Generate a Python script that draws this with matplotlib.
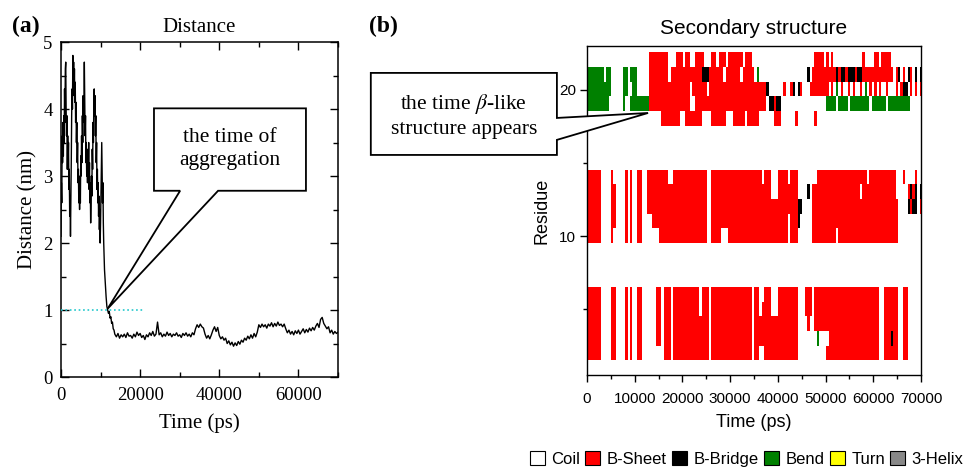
import numpy as np
import matplotlib
matplotlib.use("Agg")
import matplotlib.pyplot as plt
from matplotlib.colors import ListedColormap
from matplotlib.patches import Polygon, Patch
from matplotlib.ticker import MultipleLocator

plt.rcParams['mathtext.fontset'] = 'stix'
SERIF = 'Liberation Serif'
SANS = 'Liberation Sans'

# ---------------- (a) distance between peptides ----------------
# 0 .. 11000 ps, every 100 ps
dist_early = [
    2.1, 2.9, 2.6, 3.6, 3.2, 3.8, 3.3, 3.9, 3.5, 4.3,
    3.8, 4.6, 4.7, 4.0, 3.6, 3.9, 3.1, 3.6, 3.2, 3.5,
    2.8, 3.1, 2.4, 2.7, 2.1, 2.6, 3.2, 3.9, 4.3, 4.0,
    4.8, 4.4, 4.7, 4.2, 4.6, 4.1, 4.4, 3.8, 4.1, 3.5,
    3.8, 3.2, 3.5, 2.9, 3.1, 2.6, 2.9, 2.5, 3.0, 2.6,
    3.3, 3.0, 3.6, 3.2, 3.9, 3.5, 4.2, 3.8, 4.1, 4.7,
    4.2, 3.6, 3.9, 3.2, 3.5, 3.0, 3.3, 2.9, 3.4, 3.0,
    3.5, 2.8, 3.2, 2.6, 2.9, 2.3, 2.6, 3.0, 2.7, 3.4,
    3.1, 3.8, 3.5, 4.1, 4.3, 3.9, 4.2, 3.6, 3.9, 3.2,
    3.5, 2.8, 3.1, 2.6, 2.9, 2.4, 2.7, 2.2, 2.5, 2.0,
    2.3, 2.7, 3.1, 3.5, 3.0, 2.6, 2.9, 2.3, 2.0, 1.8,
    1.6,
]
# 11200 .. 13800 ps, every 200 ps
dist_drop = [1.4, 1.2, 1.05, 1.0, 0.95, 0.98, 0.88, 0.9, 0.8, 0.82,
             0.72, 0.7, 0.64, 0.62]
# 14000 .. 70000 ps, every 400 ps
dist_late = [
    0.60, 0.65, 0.58, 0.63, 0.60, 0.64, 0.59, 0.66, 0.61, 0.62,
    0.58, 0.64, 0.60, 0.67, 0.62, 0.65, 0.59, 0.62, 0.56, 0.63,
    0.60, 0.66, 0.62, 0.68, 0.61, 0.64, 0.82, 0.63, 0.66, 0.60,
    0.64, 0.61, 0.67, 0.62, 0.65, 0.60, 0.64, 0.62, 0.66, 0.61,
    0.63, 0.59, 0.65, 0.62, 0.66, 0.61, 0.64, 0.60, 0.66, 0.63,
    0.72, 0.78, 0.74, 0.79, 0.75, 0.73, 0.64, 0.58, 0.62, 0.57,
    0.63, 0.70, 0.75, 0.68, 0.74, 0.62, 0.57, 0.60, 0.55, 0.58,
    0.50, 0.54, 0.48, 0.52, 0.46, 0.51, 0.47, 0.53, 0.49, 0.55,
    0.52, 0.58, 0.55, 0.61, 0.57, 0.63, 0.58, 0.65, 0.60, 0.67,
    0.78, 0.74, 0.79, 0.75, 0.78, 0.73, 0.79, 0.76, 0.81, 0.75,
    0.80, 0.76, 0.82, 0.77, 0.79, 0.75, 0.79, 0.72, 0.66, 0.70,
    0.64, 0.68, 0.63, 0.69, 0.65, 0.70, 0.64, 0.68, 0.72, 0.66,
    0.71, 0.67, 0.73, 0.69, 0.74, 0.70, 0.76, 0.80, 0.74, 0.86,
    0.89, 0.80, 0.76, 0.72, 0.75, 0.66, 0.70, 0.64, 0.68, 0.65,
    0.67,
]
time_a = np.concatenate([np.arange(0, 11001, 100),
                         np.arange(11200, 13801, 200),
                         np.arange(14000, 70001, 400)])
dist_a = np.array(dist_early + dist_drop + dist_late)
cutoff = 1.0
cutoff_end = 21000

# ---------------- (b) DSSP secondary structure ----------------
# one char per 500 ps: . coil, E sheet, B bridge, S bend, T turn, G 3-helix
ss_labels = ['Coil', 'B-Sheet', 'B-Bridge', 'Bend', 'Turn', '3-Helix']
ss_colors = ['white', '#ff0000', 'black', '#008000', '#ffff00', '#888888']
ss_codes = '.EBSTG'
n_res = 23
bin_ps = 500

res_chain3 = [18, 19, 20, 21, 22]
ss_chain3 = [
    ".......... .......... .......... .EEEEEEEE. .EEEEEEE.. ..EEEEEE.. .EEEEE.EEE EE......EE E......E.. .....E.... .......... .......... .......... ..........",
    "SSSSSSSSS. .....S..SS SSSSSSEEEE EEEEEEEEEE EEE..EEEEE EEEEEEEEEE EEEEEEEEEE EEEEE.BBEB B......... .......... SSSS.SSSS. SSSSSSSS.S SSSSS.SSSS SSSSS.....",
    "SSSSSSSSSS .....SS..S S.....EEEE EEEEEEEEEE EEE.EEEEEE .EEEEEEEEE EEEEEEEEEE EEEEEB.... ..E..EB.BE ...EEEEEEE E.E.S.E..E .E..E.S.E. E.E..E...E .EBB.E.E.E",
    "SSSSSSS.SS .....SS.SS S.....EEEE EEEE.EEEEE EEEEEEEEBB BEEEEEE.EE EEEE.EEEEE .S........ .......... ..B.EEEEEE EEEEBEBBEB BBEBBEEEEE EEEEEEEE.E B.E.BE.B.B",
    ".......... .......... ......EEEE EEEE...EEE .EE..EEEE. ..EE.EEE.E EEEEE.EEE. .......... .......... .....EEEE. E.E....... .....E.... EE.EEEE... ..........",
]
res_chain2 = [10, 11, 12, 13, 14]
ss_chain2 = [
    "EEEEEE.... E.....E.E. .EE....... EEEEEEEEEE EEEEEEEEEE ..EEEE...E EEEEEEEEEE EEEEEEEEEE EEEE.EEE.. ....EEEEEE EEEE.EEEEE EEEEEEEEEE EEEEEEEEEE ..........",
    "EEEEEE.... EE....E.E. .EE....EEE EEEEEEEEEE EEEEEEEEEE ..EEEEEEEE EEEEEEEEEE EEEEEEEEEE EEEE.EEEB. ....EEEEEE EEEEEEEEEE EEEEEEEEEE EEEEEEEEEE ..........",
    "EEEEEE.... EE....E.E. .EE..EEEEE EEEEEEEEEE EEEEEEEEEE ..EEEEEEEE EEEEEEEEEE EEEEEEEEEE EEEEEEEEBB ....EEEEEE EEEEEEEEEE EEEEEEEEEE EEEEEEEEEE ....BEBB.E",
    "EEEEEE.... EE....E.E. .EE..EEEEE EEEEEEEEEE EEEEEEEEEE ..EEEEEEEE EEEEEEEEEE EEEEEEE... EEEEEEEE.. ..B.EEEEEE EEEEEEEEEE EEEE.EEEEE EEEEEEEEE. ....EBEB.B",
    "EEEEEE.... E.....E.E. .EE..EEEEE EEEE..EEEE EEEEEEEEEE ..EEEEEEEE EEEEEEEEEE EEE.EEE... EEEE.EEE.. ......EEEE EEEEEEEEEE EEEEEEE.EE EEEEEEEEE. ..E....E..",
]
res_chain1 = [2, 3, 4, 5, 6]
ss_chain1 = [
    "EEEEEE.... EE....E.E. .EE....... ..EEE.EEEE EEEEEEEEEE E.EEEEEEEE EEEEEEEEE. EE..EEEEEE EEEEEEEE.. .......... EEEEEEEEEE EEEEEEEEEE EE..EEEEEE ..EE......",
    "EEEEEE.... EE....E.E. .EE......E E.EEE.EEEE EEEEEEEEEE E.EEEEEEEE EEEEEEEEE. EEEEEEEEEE EEEEEEEE.. ......S... .EEEEEEEEE EEEEEEEEEE EE..EEEBEE ..EE......",
    "EEEEEE.... EE....E.E. .EE......E E.EEE.EEEE EEEEEEEEEE E.EEEEEEEE EEEEEEEEE. EEEEEEEEEE EEEEEEEE.. ..E..EEEEE EEEEEEEEEE EEEEEEEEEE EE..EEEEEE ..EE......",
    "EEEEEE.... EE....E.E. .EE......E E.EEE.EEEE EEEEEEE.EE E.EEEEEEEE EEEEEEEEE. EE.EEEE... EEEEEEEE.. .EEE.EEEEE EEEEEEEEEE EEEEEEEEEE EE..EEEEEE ..EE......",
    "EEEEEE.... EE....E.E. .EE......E E.EEE.EEEE EEEEEEE.EE E.EEEEEEEE EEEEEEEEE. EE..EEE... EEEEEEEE.. .EEE.EEEEE EEEEEEEEEE EEEEEEEEEE EE..EEEEEE ..EE......",
]

n_bins = len(ss_chain1[0].replace(' ', ''))
ss = np.zeros((n_res, n_bins))
for res_list, rows in [(res_chain1, ss_chain1), (res_chain2, ss_chain2), (res_chain3, ss_chain3)]:
    for res, row in zip(res_list, rows):
        ss[res - 1] = [ss_codes.index(c) for c in row.replace(' ', '')]

# ---------------- figure ----------------
fig = plt.figure(figsize=(9.71, 4.68), dpi=100)

ax1 = fig.add_axes([0.0628, 0.1944, 0.2853, 0.7158])
ax1.plot(time_a, dist_a, color='black', lw=1.0)
ax1.plot([0, cutoff_end], [cutoff, cutoff], color='#22c8cc', lw=1.2, ls=':', zorder=6)
ax1.set_xlim(0, 70000)
ax1.set_ylim(0, 5)
ax1.xaxis.set_major_locator(MultipleLocator(20000))
ax1.xaxis.set_minor_locator(MultipleLocator(10000))
ax1.yaxis.set_major_locator(MultipleLocator(1))
ax1.yaxis.set_minor_locator(MultipleLocator(0.5))
ax1.tick_params(which='both', direction='in', top=True, right=True, width=1.0,
                labelsize=13.5, labelfontfamily=SERIF)
ax1.tick_params(axis='x', pad=7)
ax1.tick_params(axis='y', pad=6)
ax1.tick_params(which='major', length=6)
ax1.tick_params(which='minor', length=3.5)
for s in ax1.spines.values():
    s.set_linewidth(1.1)
ax1.set_xlabel('Time (ps)', fontsize=15, family=SERIF, labelpad=7)
ax1.set_ylabel('Distance (nm)', fontsize=15, family=SERIF, labelpad=4)
ax1.set_title('Distance', fontsize=15, family=SERIF, pad=7)

# callout (a)
call_a = [(23500, 4.01), (61900, 4.01), (61900, 2.78), (39700, 2.78),
          (11800, 1.02), (30100, 2.78), (23500, 2.78)]
ax1.add_patch(Polygon(call_a, closed=True, fc='white', ec='black', lw=1.3,
                      zorder=5, joinstyle='miter'))
ax1.text(42700, 3.40, 'the time of\naggregation', ha='center', va='center',
         fontsize=15.5, family=SERIF, linespacing=1.3, zorder=7)

ax2 = fig.add_axes([0.6045, 0.1987, 0.3440, 0.7030])
cmap = ListedColormap(ss_colors)
ax2.imshow(ss, cmap=cmap, vmin=-0.5, vmax=len(ss_colors) - 0.5,
           extent=(0, n_bins * bin_ps, 0.5, n_res + 0.5), origin='lower',
           aspect='auto', interpolation='nearest')
ax2.set_xlim(0, 70000)
ax2.set_ylim(0.5, 23.0)
ax2.xaxis.set_major_locator(MultipleLocator(10000))
ax2.xaxis.set_minor_locator(MultipleLocator(5000))
ax2.yaxis.set_major_locator(MultipleLocator(10))
ax2.yaxis.set_minor_locator(MultipleLocator(5))
ax2.tick_params(which='both', direction='out', width=1.0, labelsize=11,
                labelfontfamily=SANS)
ax2.tick_params(axis='x', pad=7)
ax2.tick_params(axis='y', pad=3)
ax2.tick_params(which='major', length=5)
ax2.tick_params(which='minor', length=3)
for s in ax2.spines.values():
    s.set_linewidth(1.0)
ax2.set_xlabel('Time (ps)', fontsize=13, family=SANS, labelpad=6)
ax2.set_ylabel('Residue', fontsize=13, family=SANS, labelpad=6)
ax2.set_title('Secondary structure', fontsize=15, family=SANS, pad=9)

# callout (b)
call_b = [(-45300, 21.16), (-6300, 21.16), (-6300, 18.08), (12800, 18.42),
          (-6300, 16.58), (-6300, 15.55), (-45300, 15.55)]
ax2.add_patch(Polygon(call_b, closed=True, fc='white', ec='black', lw=1.3,
                      zorder=5, clip_on=False, joinstyle='miter'))
ax2.text(-25800, 18.25, 'the time $\\beta$-like\nstructure appears', ha='center',
         va='center', fontsize=15.5, family=SERIF, linespacing=1.3, zorder=7,
         clip_on=False)

fig.text(0.012, 0.944, '(a)', fontsize=17, weight='bold', family=SERIF,
         ha='left', va='center')
fig.text(0.380, 0.944, '(b)', fontsize=17, weight='bold', family=SERIF,
         ha='left', va='center')

handles = [Patch(facecolor=c, edgecolor='black', lw=0.8) for c in ss_colors]
fig.legend(handles, ss_labels, loc='center', bbox_to_anchor=(0.769, 0.019),
           ncol=6, frameon=False, handlelength=0.9, handleheight=0.9,
           handletextpad=0.4, columnspacing=0.3, borderpad=0.2,
           prop={'family': SANS, 'size': 12})

fig.savefig('out.png', dpi=100)
